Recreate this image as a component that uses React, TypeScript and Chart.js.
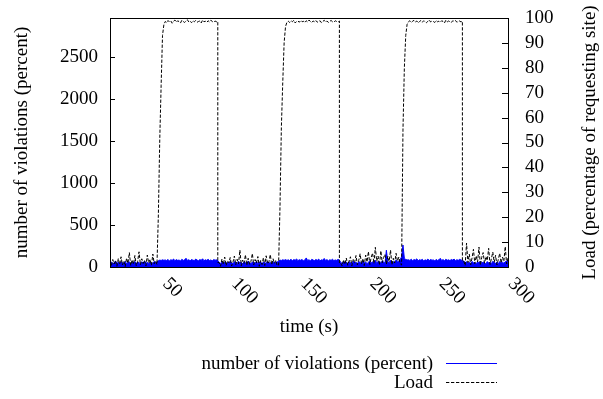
import React, { useEffect, useRef } from "react";
import { Chart, registerables } from "chart.js";

Chart.register(...registerables);

// one sample per second, first sample at t = 12 s
const startTime = 12;
const xMin = 12;
const xMax = 300;
const leftMax = 2965;

const xTickValues = [50, 100, 150, 200, 250, 300];
const leftTickValues = [0, 500, 1000, 1500, 2000, 2500];
const rightTickValues = [0, 10, 20, 30, 40, 50, 60, 70, 80, 90, 100];

// times (s) where the load drops straight down to the low level
const loadDropTimes = [90, 178, 267];

// number of violations (percent), t = 12 .. 300
const violations = [
  // 12..45
  45, 60, 38, 55, 70, 42, 58, 35, 64, 50, 44, 68, 40, 57, 62, 36, 53, 48, 66, 41,
  59, 52, 37, 63, 47, 71, 43, 56, 39, 61, 50, 45, 67, 54,
  // 46..51
  60, 75, 82, 78, 85, 80,
  // 52..90
  84, 76, 90, 72, 86, 80, 95, 74, 88, 79, 83, 71, 92, 77, 85, 104, 78, 87, 73, 89,
  81, 76, 94, 82, 75, 88, 80, 98, 74, 86, 79, 91, 77, 84, 72, 89, 81, 85, 78,
  // 91..133
  52, 40, 66, 47, 58, 35, 61, 44, 70, 49, 38, 63, 55, 42, 68, 46, 57, 36, 64, 51,
  43, 72, 48, 39, 60, 53, 45, 67, 41, 56, 62, 37, 59, 50, 44, 69, 47, 54, 40, 65,
  48, 58, 60,
  // 134..140
  70, 82, 78, 86, 80, 88, 79,
  // 141..178
  85, 77, 92, 74, 88, 81, 96, 75, 87, 80, 90, 73, 84, 108, 78, 86, 72, 91, 82, 76,
  89, 79, 94, 74, 85, 81, 102, 77, 88, 73, 86, 80, 92, 76, 84, 79, 90, 82,
  // 179..222
  55, 42, 68, 47, 60, 38, 64, 51, 45, 70, 49, 58, 40, 66, 53, 44, 72, 48, 61, 39,
  57, 75, 46, 63, 52, 80, 43, 69, 56, 48, 74, 59, 45, 200, 62, 50, 78, 54, 66, 47,
  85, 60, 72, 90,
  // 223..227
  120, 262, 105, 90, 84,
  // 228..267
  86, 78, 93, 75, 88, 82, 97, 74, 87, 80, 91, 72, 85, 79, 95, 76, 89, 81, 84, 73,
  90, 78, 86, 103, 77, 88, 74, 92, 80, 85, 76, 89, 82, 94, 75, 87, 79, 91, 83, 78,
  // 268..300
  70, 52, 64, 45, 58, 40, 67, 49, 55, 38, 62, 47, 71, 43, 59, 51, 36, 65, 48, 56,
  41, 68, 53, 44, 60, 39, 66, 50, 57, 46, 63, 72, 80,
];

// Load (percentage of requesting site), t = 12 .. 300
const load = [
  // 12..45
  2.1, 0.4, 3.0, 1.2, 2.6, 0.3, 3.4, 1.0, 4.1, 0.8, 2.4, 0.2, 3.6, 1.5, 5.8, 0.6,
  2.9, 1.1, 4.6, 0.5, 2.2, 6.1, 0.9, 3.3, 1.4, 2.7, 0.4, 4.8, 1.6, 3.1, 0.7, 5.2,
  1.3, 2.5,
  // 46..51
  1.0, 21, 51, 73, 93, 97.4,
  // 52..90
  98.6, 98.1, 99.0, 98.4, 98.8, 97.9, 98.7, 99.2, 98.3, 98.9, 98.5, 98.0, 99.1,
  98.6, 98.2, 98.8, 99.3, 98.4, 98.7, 98.1, 98.9, 98.5, 99.0, 98.3, 98.6, 98.8,
  98.0, 99.2, 98.5, 98.7, 98.2, 98.9, 98.4, 99.1, 98.6, 98.3, 98.8, 98.5, 98.7,
  // 91..133
  1.8, 0.3, 3.2, 1.0, 4.0, 0.6, 2.5, 1.7, 3.8, 0.4, 2.0, 4.4, 0.9, 3.1, 1.2, 6.8,
  0.5, 2.8, 1.4, 4.9, 0.7, 3.5, 1.1, 2.3, 5.4, 0.8, 3.0, 1.6, 4.2, 0.3, 2.6, 1.0,
  3.7, 0.6, 4.5, 1.3, 2.1, 5.0, 0.9, 3.3, 1.5, 2.7, 0.5,
  // 134..140
  0.8, 24, 56, 74, 90, 96.5, 98.3,
  // 141..178
  98.7, 98.2, 98.9, 98.5, 99.1, 98.0, 98.6, 98.8, 98.3, 99.0, 98.5, 98.7, 98.1,
  98.9, 98.4, 99.2, 98.6, 98.2, 98.8, 98.5, 99.0, 98.3, 98.7, 98.9, 98.1, 98.6,
  99.1, 98.4, 98.8, 98.2, 98.7, 99.0, 98.5, 98.3, 98.9, 98.6, 98.4, 98.8,
  // 179..222
  1.5, 0.4, 2.9, 1.1, 3.6, 0.7, 2.4, 4.1, 0.5, 3.0, 1.8, 4.6, 0.9, 2.7, 5.3, 1.2,
  3.4, 0.6, 4.8, 2.0, 6.2, 1.0, 3.9, 5.6, 1.4, 7.9, 2.3, 4.4, 0.8, 6.5, 1.7, 3.8,
  5.1, 1.1, 4.3, 2.2, 6.8, 0.9, 3.5, 1.6, 5.5, 2.4, 4.0, 1.3,
  // 223..227
  0.8, 55, 80, 93, 97.5,
  // 228..267
  98.5, 98.9, 98.2, 98.7, 99.1, 98.4, 98.8, 98.0, 98.6, 99.0, 98.3, 98.9, 98.5,
  98.1, 98.7, 99.2, 98.4, 98.8, 98.6, 98.2, 99.0, 98.5, 98.7, 98.3, 98.9, 98.6,
  98.0, 99.1, 98.4, 98.8, 98.5, 98.2, 98.9, 98.7, 99.0, 98.3, 98.6, 98.8, 98.4,
  98.7,
  // 268..300
  2.4, 0.6, 9.6, 1.8, 5.2, 0.9, 3.7, 7.1, 1.3, 4.5, 2.0, 8.0, 0.7, 3.9, 5.8, 1.5,
  4.2, 2.6, 7.5, 1.0, 3.4, 6.0, 1.9, 4.7, 0.8, 3.1, 5.5, 1.6, 4.0, 2.3, 8.2, 1.2,
  3.6,
];

const violationsLabel = "number of violations (percent)";
const loadLabel = "Load";
const leftTitle = "number of violations (percent)";
const rightTitle = "Load (percentage of requesting site)";
const xTitle = "time (s)";

const FAMILY = '"Liberation Serif", "Times New Roman", serif';
const FSIZE = 19;
const FONT_CSS = `${FSIZE}px ${FAMILY}`;
const LOAD_DASH = [3.3, 1.7];

const decorPlugin = {
  id: "gnuplotDecor",
  afterDatasetsDraw(chart: any) {
    const { ctx, chartArea: a, scales } = chart;
    ctx.save();
    ctx.strokeStyle = "#000";
    ctx.lineWidth = 1;
    ctx.setLineDash([]);
    ctx.strokeRect(a.left + 0.5, a.top + 0.5, a.right - a.left, a.bottom - a.top);
    ctx.beginPath();
    leftTickValues.forEach((v) => {
      const y = Math.round(scales.y.getPixelForValue(v)) + 0.5;
      ctx.moveTo(a.left, y);
      ctx.lineTo(a.left + 5, y);
    });
    rightTickValues.forEach((v) => {
      const y = Math.round(scales.y2.getPixelForValue(v)) + 0.5;
      ctx.moveTo(a.right + 1, y);
      ctx.lineTo(a.right - 6, y);
    });
    ctx.stroke();
    ctx.restore();
  },
  afterDraw(chart: any) {
    const { ctx, chartArea: a, scales } = chart;
    ctx.save();
    ctx.fillStyle = "#000";
    ctx.font = FONT_CSS;
    // x tick labels, rotated clockwise, starting at the tick
    xTickValues.forEach((v) => {
      const px = scales.x.getPixelForValue(v);
      ctx.save();
      ctx.translate(px + 3, a.bottom + 14);
      ctx.rotate(Math.PI / 4);
      ctx.textAlign = "left";
      ctx.textBaseline = "middle";
      ctx.fillText(String(v), 0, 0);
      ctx.restore();
    });
    // right axis title, reading bottom-to-top
    ctx.save();
    ctx.translate(590, (a.top + a.bottom) / 2);
    ctx.rotate(-Math.PI / 2);
    ctx.textAlign = "center";
    ctx.textBaseline = "middle";
    ctx.fillText(rightTitle, 0, 0);
    ctx.restore();
    // legend
    ctx.textAlign = "right";
    ctx.textBaseline = "middle";
    const tx = 433;
    const y1 = 364;
    const y2 = 383;
    ctx.fillText(violationsLabel, tx, y1);
    ctx.fillText(loadLabel, tx, y2);
    ctx.lineWidth = 1;
    ctx.strokeStyle = "#0000ff";
    ctx.beginPath();
    ctx.moveTo(446, y1 - 0.5);
    ctx.lineTo(497, y1 - 0.5);
    ctx.stroke();
    ctx.strokeStyle = "#000";
    ctx.setLineDash(LOAD_DASH);
    ctx.beginPath();
    ctx.moveTo(446, y2 - 0.5);
    ctx.lineTo(497, y2 - 0.5);
    ctx.stroke();
    ctx.restore();
  },
};

export default function App() {
  const canvasRef = useRef<HTMLCanvasElement | null>(null);

  useEffect(() => {
    if (!canvasRef.current) return;

    const violationPoints = violations.map((v, i) => ({ x: startTime + i, y: v }));
    const loadPoints: { x: number; y: number }[] = [];
    load.forEach((v, i) => {
      const t = startTime + i;
      loadPoints.push({ x: t, y: v });
      if (loadDropTimes.includes(t) && i + 1 < load.length) {
        loadPoints.push({ x: t, y: load[i + 1] });
      }
    });

    const font = { family: FAMILY, size: FSIZE };
    const plainLabel = (v: any) => String(v);

    const chart = new Chart(canvasRef.current, {
      type: "line",
      data: {
        datasets: [
          {
            label: violationsLabel,
            data: violationPoints,
            yAxisID: "y",
            borderColor: "#0000ff",
            backgroundColor: "#0000ff",
            borderWidth: 1,
            pointRadius: 0,
            fill: "origin",
            tension: 0,
            order: 2,
          },
          {
            label: loadLabel,
            data: loadPoints,
            yAxisID: "y2",
            borderColor: "#000000",
            backgroundColor: "#000000",
            borderWidth: 1,
            borderDash: LOAD_DASH,
            pointRadius: 0,
            fill: false,
            tension: 0,
            order: 1,
          },
        ],
      },
      options: {
        animation: false,
        responsive: false,
        maintainAspectRatio: false,
        events: [],
        layout: { padding: { top: 18, left: 0, right: 0, bottom: 0 } },
        plugins: {
          legend: { display: false },
          tooltip: { enabled: false },
        },
        scales: {
          x: {
            type: "linear",
            position: "bottom",
            min: xMin,
            max: xMax,
            grid: { display: false, drawTicks: false },
            border: { display: false },
            ticks: { display: false },
            title: {
              display: true,
              text: xTitle,
              color: "#000",
              font,
              padding: { top: 0, bottom: 60.6 },
            },
            afterFit: (s: any) => {
              s.height = 132;
              s.paddingLeft = 0;
              s.paddingRight = 0;
            },
          },
          y: {
            type: "linear",
            position: "left",
            min: 0,
            max: leftMax,
            grid: { display: false, drawTicks: false },
            border: { display: false },
            ticks: { color: "#000", font, padding: 12, autoSkip: false, callback: plainLabel },
            afterBuildTicks: (s: any) => {
              s.ticks = leftTickValues.map((v) => ({ value: v }));
            },
            title: {
              display: true,
              text: leftTitle,
              color: "#000",
              font,
              padding: { top: 10.6, bottom: 0 },
            },
            afterFit: (s: any) => {
              s.width = 110;
              s.paddingTop = 0;
              s.paddingBottom = 0;
            },
          },
          y2: {
            type: "linear",
            position: "right",
            min: 0,
            max: 100,
            grid: { display: false, drawTicks: false },
            border: { display: false },
            ticks: { color: "#000", font, padding: 17, autoSkip: false, callback: plainLabel },
            afterBuildTicks: (s: any) => {
              s.ticks = rightTickValues.map((v) => ({ value: v }));
            },
            afterFit: (s: any) => {
              s.width = 95;
              s.paddingTop = 0;
              s.paddingBottom = 0;
            },
          },
        },
      },
      plugins: [decorPlugin],
    });

    return () => chart.destroy();
  }, []);

  return (
    <div style={{ position: "fixed", left: 0, top: 0, width: 603, height: 399, background: "#fff" }}>
      <canvas ref={canvasRef} width={603} height={399} style={{ width: 603, height: 399, display: "block" }} />
    </div>
  );
}
